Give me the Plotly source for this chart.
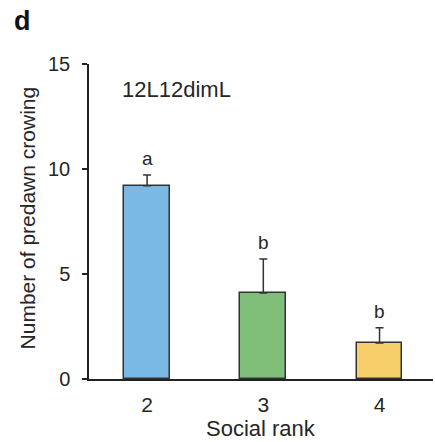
import plotly.graph_objects as go

# Data
ranks = [2, 3, 4]
rank_labels = ["2", "3", "4"]
means = [9.2, 4.1, 1.72]
sem = [0.52, 1.62, 0.72]
letters = ["a", "b", "b"]
colors = ["#7ab8e6", "#80bf79", "#f6cf6b"]

FONT = "Liberation Sans, Arial, sans-serif"
TXT = "#262626"

fig = go.Figure()
fig.add_trace(go.Bar(
    x=ranks, y=means, width=0.395,
    marker=dict(color=colors, line=dict(color="#333333", width=1.5)),
    error_y=dict(type="data", array=sem, arrayminus=[0] * len(sem),
                 color="#333333", thickness=1.5, width=4),
    showlegend=False,
))

# significance letters
for xv, m, e, lt in zip(ranks, means, sem, letters):
    fig.add_annotation(x=xv, y=m + e, text=lt, showarrow=False,
                       yanchor="bottom", yshift=4,
                       font=dict(family=FONT, size=19, color=TXT))

# condition label
fig.add_annotation(x=1.765, y=13.8, text="12L12dimL", showarrow=False,
                   xanchor="left", yanchor="middle",
                   font=dict(family=FONT, size=22, color=TXT))

# panel letter
fig.add_annotation(xref="paper", yref="paper", x=-0.225, y=1.135,
                   text="<b>d</b>", showarrow=False, xanchor="left", yanchor="middle",
                   font=dict(family=FONT, size=27, color="#111111"))

# axis titles as annotations for precise placement
fig.add_annotation(xref="paper", yref="paper", x=-0.18, y=0.51,
                   text="Number of predawn crowing", textangle=-90, showarrow=False,
                   xanchor="center", yanchor="middle",
                   font=dict(family=FONT, size=21, color=TXT))
fig.add_annotation(xref="paper", yref="paper", x=0.5, y=-0.157,
                   text="Social rank", showarrow=False,
                   xanchor="center", yanchor="middle",
                   font=dict(family=FONT, size=22, color=TXT))

fig.update_layout(
    width=435, height=442,
    margin=dict(l=89, r=2, t=64, b=63),
    paper_bgcolor="white", plot_bgcolor="white",
    bargap=0,
    xaxis=dict(range=[1.5, 4.46], tickvals=ranks, ticktext=rank_labels,
               showline=True, linecolor="#222222", linewidth=1.5,
               ticks="", showgrid=False, zeroline=False,
               ticklabelstandoff=6,
               tickfont=dict(family=FONT, size=21, color=TXT)),
    yaxis=dict(range=[0, 15], tickvals=[0, 5, 10, 15],
               showline=True, linecolor="#222222", linewidth=1.5,
               ticks="outside", ticklen=5, tickwidth=1.5, tickcolor="#222222",
               showgrid=False, zeroline=False,
               ticklabelstandoff=8,
               tickfont=dict(family=FONT, size=20, color=TXT)),
)

fig.write_html("out.html")
